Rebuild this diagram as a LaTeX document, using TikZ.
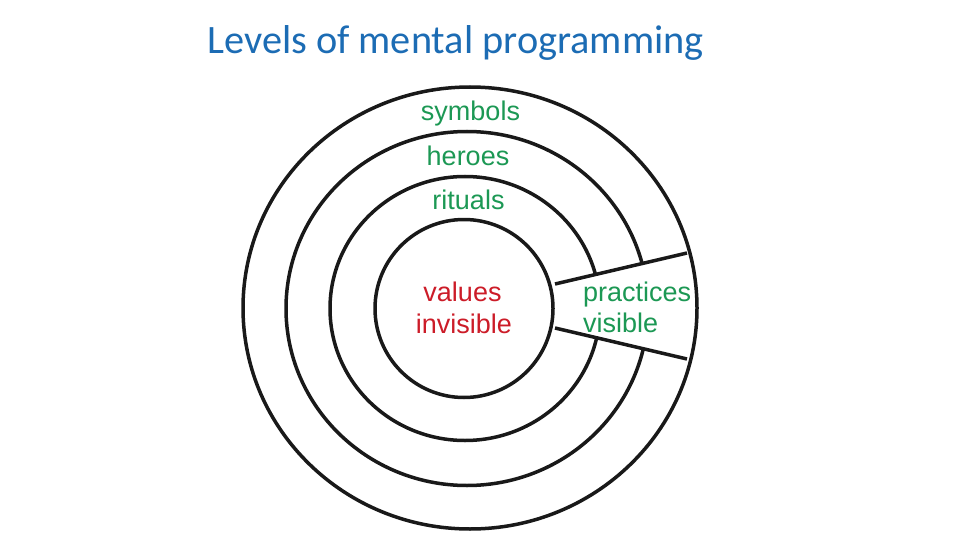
\documentclass[tikz,border=0pt]{standalone}
\usepackage{fontspec}
\setmainfont{Liberation Sans}
\newfontfamily\titlefont{Carlito}
\usetikzlibrary{calc}
\definecolor{TitleBlue}{RGB}{28,108,180}
\definecolor{LevelGreen}{RGB}{28,152,84}
\definecolor{ValueRed}{RGB}{204,28,40}
\begin{document}
\begin{tikzpicture}[x=1pt,y=-1pt,ring/.style={line width=3.5pt,black!90},
  lbl/.style={anchor=base,inner sep=0pt,font=\fontsize{27}{30}\selectfont}]
\useasboundingbox (0,0) rectangle (960,540);
% rings, practices wedge cut out of the two middle ones
\draw[ring] (467,308.5) ellipse (181 and 177);\draw[ring] (465,308.5) ellipse (135 and 132);
\fill[white] (555,284)--(687,253)--(687,359)--(555,328)--cycle;
\draw[ring] (470,308) ellipse (227 and 221);\draw[ring] (464,308.5) ellipse (89 and 89);
\draw[ring] (555,284)--(687,253);\draw[ring] (555,328)--(687,359);
\node[anchor=base,inner sep=0pt,text=TitleBlue,font=\titlefont\fontsize{40.3}{48}\selectfont] (title) at (455.5,54) {Levels of mental programming};
\node[lbl,text=LevelGreen] (symbols) at (470.5,121) {symbols};
\node[lbl,text=LevelGreen] (heroes) at (468,166) {heroes};
\node[lbl,text=LevelGreen] (rituals) at (468.5,209) {rituals};
\node[lbl,text=ValueRed] (values) at (462.5,301) {values};\node[lbl,text=ValueRed] (invis) at (464,333) {invisible};
\node[lbl,anchor=base west,text=LevelGreen] (practices) at (583,301.5) {practices};
\node[lbl,anchor=base west,text=LevelGreen] (vis) at (583,332) {visible};
\end{tikzpicture}
\end{document}
